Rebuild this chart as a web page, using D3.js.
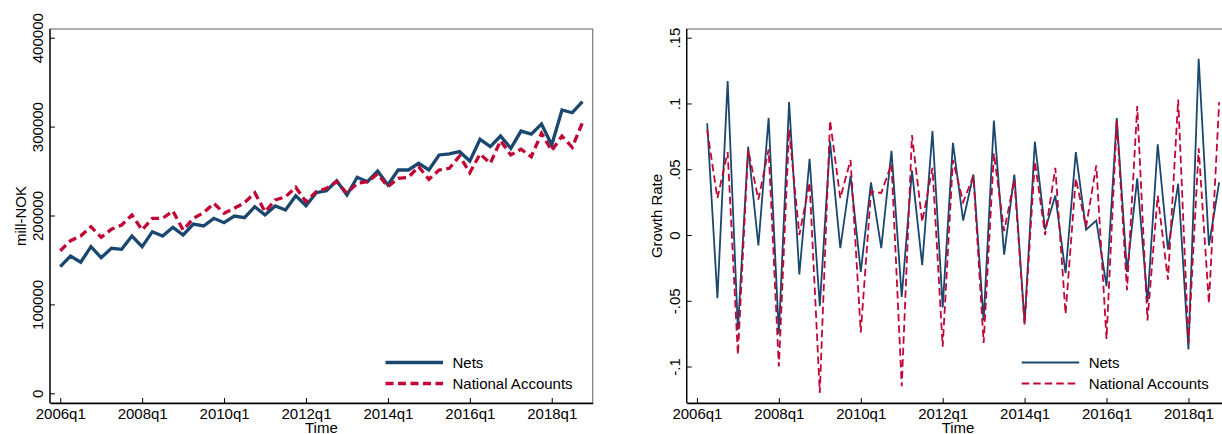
<!DOCTYPE html>
<html>
<head>
<meta charset="utf-8">
<script src="https://cdn.jsdelivr.net/npm/d3@7"></script>
<style>
  body { margin: 0; background: #fff; }
  svg { display: block; font-family: "Liberation Sans", Arial, sans-serif; }
</style>
</head>
<body>
<svg width="1222" height="434"></svg>
<script>
// quarters 2006q1 .. 2018q4
const years = d3.range(2006, 2019);
const quarters = [];
years.forEach(y => [1, 2, 3, 4].forEach(q => quarters.push(y + "q" + q)));

const xTickLabels = ["2006q1", "2008q1", "2010q1", "2012q1", "2014q1", "2016q1", "2018q1"];

// levels, mill-NOK
const netsLevel = [
  142400, 154400, 147400, 164900, 152500, 163100, 162000, 176900, 164900, 181800,
  176900, 186700, 178100, 190400, 188200, 196800, 191900, 199400, 197500, 209900,
  200600, 210700, 206200, 222300, 211000, 225600, 227900, 239100, 223100, 243000,
  238000, 250000, 234300, 251200, 251200, 258700, 251200, 268100, 269200, 271800,
  261300, 285700, 277400, 289400, 275600, 295000, 291600, 302900, 279300, 318700,
  315600, 328000
];
const naLevel = [
  160400, 171700, 176900, 187400, 175500, 184500, 189300, 200600, 183700, 196800,
  196800, 205100, 183700, 196800, 203100, 213700, 202500, 208100, 214400, 225600,
  204300, 217400, 221100, 231700, 215500, 226800, 230600, 238000, 225000, 236200,
  238000, 246700, 232400, 241800, 243000, 254900, 240700, 251200, 253100, 266900,
  248100, 269200, 258700, 284100, 268100, 274500, 266100, 292500, 272900, 289400,
  276700, 304400
];

// quarterly growth rates, 2006q2 .. 2018q4
const netsGrowth = [
  0.085, -0.048, 0.117, -0.072, 0.067, -0.008, 0.089, -0.075, 0.101, -0.030,
  0.058, -0.054, 0.071, -0.010, 0.045, -0.028, 0.040, -0.010, 0.064, -0.047,
  0.049, -0.023, 0.079, -0.055, 0.070, 0.011, 0.046, -0.065, 0.087, -0.015,
  0.046, -0.067, 0.071, 0.004, 0.030, -0.029, 0.063, 0.004, 0.011, -0.039,
  0.089, -0.028, 0.043, -0.051, 0.069, -0.011, 0.039, -0.087, 0.134, -0.008,
  0.040
];
const naGrowth = [
  0.080, 0.028, 0.063, -0.091, 0.065, 0.027, 0.065, -0.100, 0.080, 0.000,
  0.040, -0.120, 0.087, 0.028, 0.057, -0.074, 0.033, 0.032, 0.054, -0.115,
  0.076, 0.010, 0.051, -0.085, 0.057, 0.025, 0.045, -0.082, 0.062, 0.003,
  0.042, -0.068, 0.056, 0.000, 0.051, -0.060, 0.043, 0.006, 0.053, -0.079,
  0.087, -0.042, 0.098, -0.065, 0.030, -0.034, 0.103, -0.082, 0.066, -0.052,
  0.101
];

const levelTicks = [0, 100000, 200000, 300000, 400000];
const growthTicks = [-0.1, -0.05, 0, 0.05, 0.1, 0.15];
const growthTickLabels = ["-.1", "-.05", "0", ".05", ".1", ".15"];
const seriesNames = ["Nets", "National Accounts"];

const navy = "#1a476f", cranberry = "#c10534";
const svg = d3.select("svg");

function panel(opt) {
  const g = svg.append("g");
  const x = d3.scaleLinear().domain([-1, 52]).range([opt.left, opt.left + 542.7]);
  const y = d3.scaleLinear().domain(opt.domain).range(opt.range);
  const top = 29, bottom = 403;

  // frame
  g.append("rect")
    .attr("x", x.range()[0]).attr("y", top)
    .attr("width", x.range()[1] - x.range()[0]).attr("height", bottom - top)
    .attr("fill", "none").attr("stroke", "#7a7a7a").attr("stroke-width", 1.2);

  // lines
  const line = d3.line().x(d => x(d.i)).y(d => y(d.v));
  const toPts = (arr) => arr.map((v, k) => ({ i: k + opt.start, v: v }));
  g.append("path").datum(toPts(opt.s1))
    .attr("d", line).attr("fill", "none")
    .attr("stroke", navy).attr("stroke-width", opt.lw)
    .attr("stroke-linejoin", "miter");
  g.append("path").datum(toPts(opt.s2))
    .attr("d", line).attr("fill", "none")
    .attr("stroke", cranberry).attr("stroke-width", opt.lw)
    .attr("stroke-dasharray", opt.dash);

  // x axis
  const xAxis = d3.axisBottom(x)
    .tickValues(xTickLabels.map(t => quarters.indexOf(t)))
    .tickFormat(i => quarters[i])
    .tickSizeInner(-5).tickSizeOuter(0);
  const gx = g.append("g").attr("transform", "translate(0," + bottom + ")").call(xAxis);
  gx.select(".domain").attr("stroke", "#000").attr("stroke-width", 1.3);
  gx.selectAll(".tick line").attr("stroke", "#000");
  gx.selectAll(".tick text").attr("y", 16).attr("dy", 0)
    .attr("font-size", 15).attr("fill", "#000");

  // y axis
  const yAxis = d3.axisLeft(y)
    .tickValues(opt.ticks)
    .tickFormat((d, k) => opt.tickLabels[k])
    .tickSizeInner(-5).tickSizeOuter(0);
  const gy = g.append("g").attr("transform", "translate(" + x.range()[0] + ",0)").call(yAxis);
  gy.select(".domain").attr("d", "M0," + top + "V" + bottom)
    .attr("stroke", "#000").attr("stroke-width", 1.3);
  gy.selectAll(".tick line").attr("stroke", "#000");
  gy.selectAll(".tick text")
    .attr("transform", "rotate(-90)")
    .attr("x", 0).attr("y", -7).attr("dy", 0)
    .attr("text-anchor", "middle")
    .attr("font-size", 15).attr("fill", "#000");

  // titles
  g.append("text")
    .attr("transform", "translate(" + opt.ytitleX + "," + ((top + bottom) / 2) + ") rotate(-90)")
    .attr("text-anchor", "middle").attr("font-size", 15)
    .text(opt.ytitle);
  g.append("text")
    .attr("x", (x.range()[0] + x.range()[1]) / 2).attr("y", 433)
    .attr("text-anchor", "middle").attr("font-size", 15)
    .text("Time");

  // legend
  const lg = g.append("g");
  [0, 1].forEach(k => {
    const ly = 362.5 + k * 21;
    lg.append("line")
      .attr("x1", opt.legX).attr("x2", opt.legX + 57.5)
      .attr("y1", ly).attr("y2", ly)
      .attr("stroke", k === 0 ? navy : cranberry)
      .attr("stroke-width", opt.lw)
      .attr("stroke-dasharray", k === 0 ? null : opt.dash);
    lg.append("text")
      .attr("x", opt.legX + 67).attr("y", ly + 5.5)
      .attr("font-size", 15)
      .text(seriesNames[k]);
  });
}

panel({
  left: 50, domain: [0, 400000], range: [393.3, 37.7],
  s1: netsLevel, s2: naLevel, start: 0,
  ticks: levelTicks, tickLabels: levelTicks.map(String),
  ytitle: "mill-NOK", ytitleX: 26,
  lw: 3.3, dash: "8,4.5", legX: 385.5
});

panel({
  left: 686.7, domain: [0, 0.15], range: [235, 37.7],
  s1: netsGrowth, s2: naGrowth, start: 1,
  ticks: growthTicks, tickLabels: growthTickLabels,
  ytitle: "Growth Rate", ytitleX: 662,
  lw: 1.8, dash: "7.5,4", legX: 1021.7
});
</script>
</body>
</html>
